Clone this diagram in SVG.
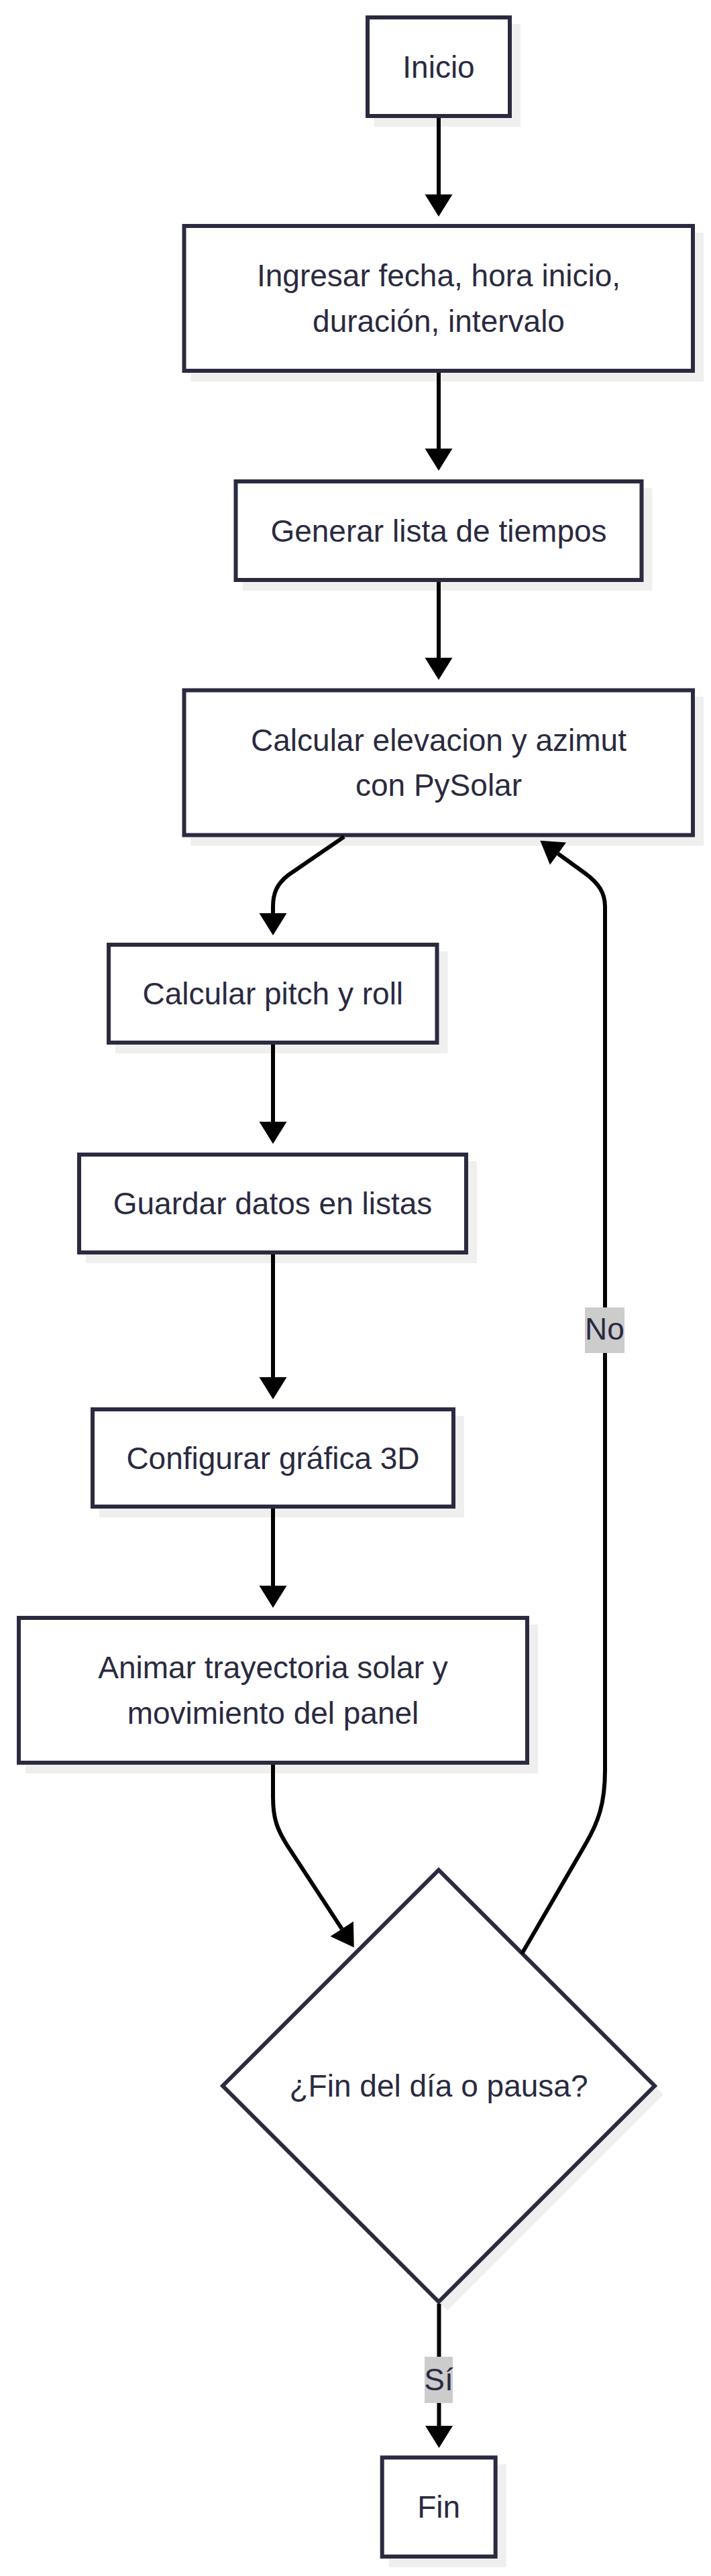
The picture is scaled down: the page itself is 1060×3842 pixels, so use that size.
<svg xmlns="http://www.w3.org/2000/svg" width="1060" height="3842" viewBox="0 0 1060 3842">
<defs>
<marker id="arrow" viewBox="0 -20.5 33 41" markerWidth="33" markerHeight="41" refX="0" refY="0" markerUnits="userSpaceOnUse" orient="auto" overflow="visible">
<path d="M0,-20.5 L33,0 L0,20.5 Z" fill="#000"/>
</marker>
</defs>
<style>
.box { fill: #ffffff; stroke: #2a2a40; stroke-width: 6; }
.shadow { fill: #efefef; stroke: none; }
.label { font-family: "Liberation Sans", Arial, sans-serif; font-size: 46px; fill: #2a2a40; text-anchor: middle; }
.edge { fill: none; stroke: #000; stroke-width: 6; marker-end: url(#arrow); }
.elabel-bg { fill: #cccccc; }
</style>
<rect x="0" y="0" width="1060" height="3842" fill="#ffffff"/>

<g id="nodes">
<g id="node-inicio">
<rect class="shadow" x="558" y="36" width="218" height="153"/>
<rect class="box" x="548" y="26" width="212" height="147"/>
<text class="label" x="654" y="115.5">Inicio</text>
</g>
<g id="node-ingresar">
<rect class="shadow" x="284.5" y="347" width="764.5" height="222"/>
<rect class="box" x="274.5" y="337" width="758.5" height="216"/>
<text class="label" x="654" y="427.4">Ingresar fecha, hora inicio,</text>
<text class="label" x="654" y="494.6">duración, intervalo</text>
</g>
<g id="node-generar">
<rect class="shadow" x="361.5" y="728" width="611" height="153"/>
<rect class="box" x="351.5" y="718" width="605" height="147"/>
<text class="label" x="654" y="807.5">Generar lista de tiempos</text>
</g>
<g id="node-elevacion">
<rect class="shadow" x="284.5" y="1039.5" width="764.5" height="222"/>
<rect class="box" x="274.5" y="1029.5" width="758.5" height="216"/>
<text class="label" x="654" y="1119.9">Calcular elevacion y azimut</text>
<text class="label" x="654" y="1187.1">con PySolar</text>
</g>
<g id="node-pitch">
<rect class="shadow" x="172" y="1419" width="495.5" height="152"/>
<rect class="box" x="162" y="1409" width="489.5" height="146"/>
<text class="label" x="406.8" y="1498">Calcular pitch y roll</text>
</g>
<g id="node-guardar">
<rect class="shadow" x="128" y="1732" width="583" height="152"/>
<rect class="box" x="118" y="1722" width="577" height="146"/>
<text class="label" x="406.5" y="1811">Guardar datos en listas</text>
</g>
<g id="node-configurar">
<rect class="shadow" x="148" y="2112" width="544" height="151"/>
<rect class="box" x="138" y="2102" width="538" height="145"/>
<text class="label" x="407" y="2190.5">Configurar gráfica 3D</text>
</g>
<g id="node-animar">
<rect class="shadow" x="38" y="2423" width="764" height="222"/>
<rect class="box" x="28" y="2413" width="758" height="216"/>
<text class="label" x="407" y="2503.4">Animar trayectoria solar y</text>
<text class="label" x="407" y="2570.6">movimiento del panel</text>
</g>
<g id="node-decision">
<polygon class="shadow" points="667,2802 989,3124 667,3446 345,3124"/>
<polygon class="box" points="654,2789 976,3111 654,3433 332,3111"/>
<text class="label" x="654" y="3127">¿Fin del día o pausa?</text>
</g>
<g id="node-fin">
<rect class="shadow" x="579.7" y="3675.3" width="175" height="153.7"/>
<rect class="box" x="569.7" y="3665.3" width="169" height="147.7"/>
<text class="label" x="654.2" y="3755">Fin</text>
</g>
</g>

<g id="connectors">
<path class="edge" d="M654 176 L654 290"/>
<path class="edge" d="M654 556 L654 669"/>
<path class="edge" d="M654 868 L654 981"/>
<path class="edge" d="M513 1248 L430 1305 C413 1318 407 1332 407 1352 L407 1362"/>
<path class="edge" d="M407 1558 L407 1673"/>
<path class="edge" d="M407 1871 L407 2054"/>
<path class="edge" d="M407 2250 L407 2365"/>
<path class="edge" d="M407 2632 L407 2680 C407 2712 413 2728 428 2752 L509.7 2876.9"/>
<path class="edge" d="M778 2914 L872 2752 C892 2718 902 2690 902 2640 L902 1352 C902 1332 893 1318 873 1303 L832 1273.2"/>
<path class="edge" d="M654.5 3436 L654.5 3618"/>
<g id="label-no">
<rect class="elabel-bg" x="872" y="1950" width="59" height="68"/>
<text class="label" x="901.5" y="1998">No</text>
</g>
<g id="label-si">
<rect class="elabel-bg" x="633" y="3515" width="42" height="69"/>
<text class="label" x="654" y="3565">Sí</text>
</g>
</g>
</svg>
